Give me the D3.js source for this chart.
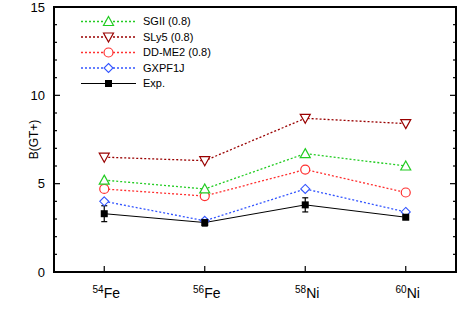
<!DOCTYPE html>
<html>
<head>
<script src="https://d3js.org/d3.v7.min.js"></script>
<style>
  body { margin: 0; background: white; }
  svg text { font-family: 'Liberation Sans', Arial, sans-serif; fill: #000; }
</style>
</head>
<body>
<svg id="chart" width="463" height="327"></svg>
<script>
// data
var nuclei = [{ mass: '54', el: 'Fe' }, { mass: '56', el: 'Fe' }, { mass: '58', el: 'Ni' }, { mass: '60', el: 'Ni' }];
var sgii = [5.2, 4.7, 6.7, 6.0];
var sly5 = [6.5, 6.3, 8.7, 8.4];
var ddme2 = [4.7, 4.3, 5.8, 4.5];
var gxpf1j = [4.0, 2.9, 4.7, 3.4];
var expVals = [3.3, 2.8, 3.8, 3.1];
var expErr = [0.45, 0.2, 0.4, 0.1];
var yTicks = [0, 5, 10, 15];

var series = [
  { name: 'SGII (0.8)', values: sgii, color: '#22cc22', symbol: 'up' },
  { name: 'SLy5 (0.8)', values: sly5, color: '#990000', symbol: 'down' },
  { name: 'DD-ME2 (0.8)', values: ddme2, color: '#ff3030', symbol: 'circle' },
  { name: 'GXPF1J', values: gxpf1j, color: '#3355ff', symbol: 'diamond' }
];

var svg = d3.select('#chart');
var pLeft = 54, pRight = 456, pTop = 7, pBottom = 272;

var x = d3.scalePoint().domain(d3.range(nuclei.length)).range([pLeft, pRight]).padding(0.5);
var y = d3.scaleLinear().domain([0, 15]).range([pBottom, pTop]);

// inner ticks
var g = svg.append('g');
d3.range(0, 16).forEach(function (v) {
  var len = v % 5 === 0 ? 6 : 3;
  g.append('line').attr('x1', pLeft).attr('x2', pLeft + len)
    .attr('y1', y(v)).attr('y2', y(v)).attr('stroke', '#000').attr('stroke-width', 1.2);
  g.append('line').attr('x1', pRight).attr('x2', pRight - len)
    .attr('y1', y(v)).attr('y2', y(v)).attr('stroke', '#000').attr('stroke-width', 1.2);
});
nuclei.forEach(function (d, i) {
  g.append('line').attr('x1', x(i)).attr('x2', x(i))
    .attr('y1', pBottom).attr('y2', pBottom - 6).attr('stroke', '#000').attr('stroke-width', 1.2);
});

// y labels
yTicks.forEach(function (v) {
  svg.append('text').attr('x', pLeft - 9).attr('y', y(v)).attr('dy', '0.35em')
    .attr('text-anchor', 'end').style('font-size', '13px').text(v);
});

// x labels
nuclei.forEach(function (d, i) {
  var t = svg.append('text').attr('x', x(i) + 2).attr('y', 298)
    .attr('text-anchor', 'middle').style('font-size', '14px');
  t.append('tspan').attr('dy', '-5').style('font-size', '10px').text(d.mass);
  t.append('tspan').attr('dy', '5').text(d.el);
});

// y axis title
svg.append('text').attr('transform', 'translate(38,' + ((pTop + pBottom) / 2) + ') rotate(-90)')
  .attr('text-anchor', 'middle').style('font-size', '12px').text('B(GT+)');

function drawSymbol(sel, type, cx, cy, color) {
  if (type === 'up') {
    sel.append('path').attr('d', 'M' + cx + ',' + (cy - 5) + 'L' + (cx + 5) + ',' + (cy + 4) + 'L' + (cx - 5) + ',' + (cy + 4) + 'Z')
      .attr('fill', 'white').attr('stroke', color).attr('stroke-width', 1.2);
  } else if (type === 'down') {
    sel.append('path').attr('d', 'M' + cx + ',' + (cy + 5) + 'L' + (cx + 5) + ',' + (cy - 4) + 'L' + (cx - 5) + ',' + (cy - 4) + 'Z')
      .attr('fill', 'white').attr('stroke', color).attr('stroke-width', 1.2);
  } else if (type === 'circle') {
    sel.append('circle').attr('cx', cx).attr('cy', cy).attr('r', 4.5)
      .attr('fill', 'white').attr('stroke', color).attr('stroke-width', 1.2);
  } else if (type === 'diamond') {
    sel.append('path').attr('d', 'M' + cx + ',' + (cy - 4.5) + 'L' + (cx + 4.5) + ',' + cy + 'L' + cx + ',' + (cy + 4.5) + 'L' + (cx - 4.5) + ',' + cy + 'Z')
      .attr('fill', 'white').attr('stroke', color).attr('stroke-width', 1.1);
  } else {
    sel.append('rect').attr('x', cx - 3.5).attr('y', cy - 3.5).attr('width', 7).attr('height', 7).attr('fill', '#000');
  }
}

var line = d3.line().x(function (d, i) { return x(i); }).y(function (d) { return y(d); });

// experiment first (underneath)
svg.append('path').datum(expVals).attr('d', line).attr('fill', 'none')
  .attr('stroke', '#000').attr('stroke-width', 1);
expVals.forEach(function (v, i) {
  var eg = svg.append('g');
  eg.append('line').attr('x1', x(i)).attr('x2', x(i)).attr('y1', y(v - expErr[i])).attr('y2', y(v + expErr[i]))
    .attr('stroke', '#000').attr('stroke-width', 1.2);
  [v - expErr[i], v + expErr[i]].forEach(function (e) {
    eg.append('line').attr('x1', x(i) - 3).attr('x2', x(i) + 3).attr('y1', y(e)).attr('y2', y(e))
      .attr('stroke', '#000').attr('stroke-width', 1.2);
  });
});

series.slice().reverse().forEach(function (s) {
  svg.append('path').datum(s.values).attr('d', line).attr('fill', 'none')
    .attr('stroke', s.color).attr('stroke-width', 1.3).attr('stroke-dasharray', '2,2');
});
series.slice().reverse().forEach(function (s) {
  s.values.forEach(function (v, i) { drawSymbol(svg, s.symbol, x(i), y(v), s.color); });
});
expVals.forEach(function (v, i) { drawSymbol(svg, 'square', x(i), y(v), '#000'); });

// frame
svg.append('rect').attr('x', pLeft).attr('y', pTop).attr('width', pRight - pLeft).attr('height', pBottom - pTop)
  .attr('fill', 'none').attr('stroke', '#000').attr('stroke-width', 2);

// legend
var legendRows = series.concat([{ name: 'Exp.', color: '#000', symbol: 'square' }]);
legendRows.forEach(function (s, i) {
  var ly = 21.5 + i * 15.5;
  var lg = svg.append('g');
  lg.append('line').attr('x1', 81).attr('x2', 136).attr('y1', ly).attr('y2', ly)
    .attr('stroke', s.color).attr('stroke-width', s.symbol === 'square' ? 1 : 1.3)
    .attr('stroke-dasharray', s.symbol === 'square' ? null : '2,2');
  drawSymbol(lg, s.symbol, 108.5, ly, s.color);
  lg.append('text').attr('x', 143).attr('y', ly).attr('dy', '0.35em')
    .style('font-size', '11px').text(s.name);
});
</script>
</body>
</html>
